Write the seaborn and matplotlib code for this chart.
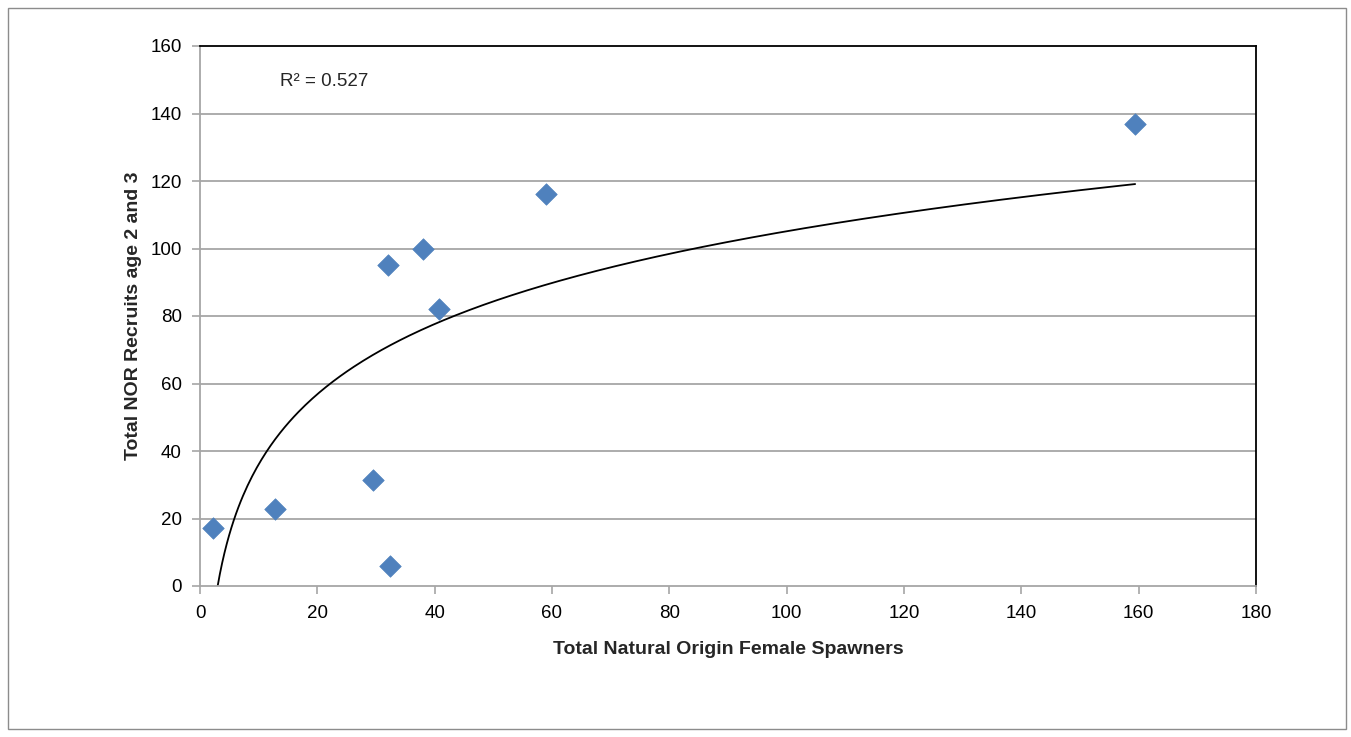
import numpy as np
import pandas as pd
import matplotlib
matplotlib.use("Agg")
import matplotlib.pyplot as plt
from matplotlib.patches import Rectangle
import seaborn as sns

# Spawner / recruit observations
female_spawners = [2.2, 12.8, 29.5, 32.4, 32.0, 38.0, 40.7, 59.0, 159.4]
nor_recruits = [17.2, 22.8, 31.4, 5.9, 95.1, 99.9, 82.1, 116.1, 136.9]
r_squared_label = "R² = 0.527"
x_ticks = [0, 20, 40, 60, 80, 100, 120, 140, 160, 180]
y_ticks = [0, 20, 40, 60, 80, 100, 120, 140, 160]

sns.set_theme(style="white")
plt.rcParams["font.family"] = ["Liberation Sans", "DejaVu Sans"]

df = pd.DataFrame({"spawners": female_spawners, "recruits": nor_recruits})

# Logarithmic trend: recruits = a*ln(spawners) + b
a, b = np.polyfit(np.log(df["spawners"]), df["recruits"], 1)
xs = np.linspace(min(female_spawners), max(female_spawners), 400)
trend = pd.DataFrame({"spawners": xs, "recruits": a * np.log(xs) + b})

W, H = 1351, 737
fig = plt.figure(figsize=(W / 100, H / 100), dpi=100)
ax = fig.add_axes([200 / W, 1 - 586 / H, (1256 - 200) / W, (586 - 46) / H])

# Outer chart border
fig.patches.append(Rectangle((8 / W, 1 - 729 / H), (1346 - 8) / W, (729 - 8) / H,
                             transform=fig.transFigure, fill=False,
                             edgecolor="#8c8c8c", linewidth=1.0))

grid_c = "#a6a6a6"
for yv in y_ticks[1:-1]:
    ax.axhline(yv, color=grid_c, linewidth=1.3, zorder=0)

sns.lineplot(data=trend, x="spawners", y="recruits", ax=ax, color="black",
             linewidth=1.3, zorder=2, sort=False)
sns.scatterplot(data=df, x="spawners", y="recruits", ax=ax, marker="D",
                s=120, color="#4F81BD", edgecolor="#4F81BD", linewidth=0.5, zorder=3)

ax.set_xlim(0, 180)
ax.set_ylim(0, 160)
ax.set_xticks(x_ticks)
ax.set_yticks(y_ticks)
ax.tick_params(axis="both", direction="out", length=6, width=1.2, color=grid_c,
               labelsize=13.5, bottom=True, left=True, labelcolor="black")
ax.tick_params(axis="x", pad=8)
ax.tick_params(axis="y", pad=7)

for side in ["left", "bottom"]:
    ax.spines[side].set_color(grid_c)
    ax.spines[side].set_linewidth(1.3)
for side in ["top", "right"]:
    ax.spines[side].set_color("black")
    ax.spines[side].set_linewidth(1.3)

ax.set_xlabel("Total Natural Origin Female Spawners", fontsize=14,
              fontweight="bold", labelpad=13)
ax.set_ylabel("Total NOR Recruits age 2 and 3", fontsize=14,
              fontweight="bold", labelpad=6)

ax.text(13.6, 149.5, r_squared_label, fontsize=13.5, ha="left", va="center")

fig.savefig("out.png", dpi=100)
